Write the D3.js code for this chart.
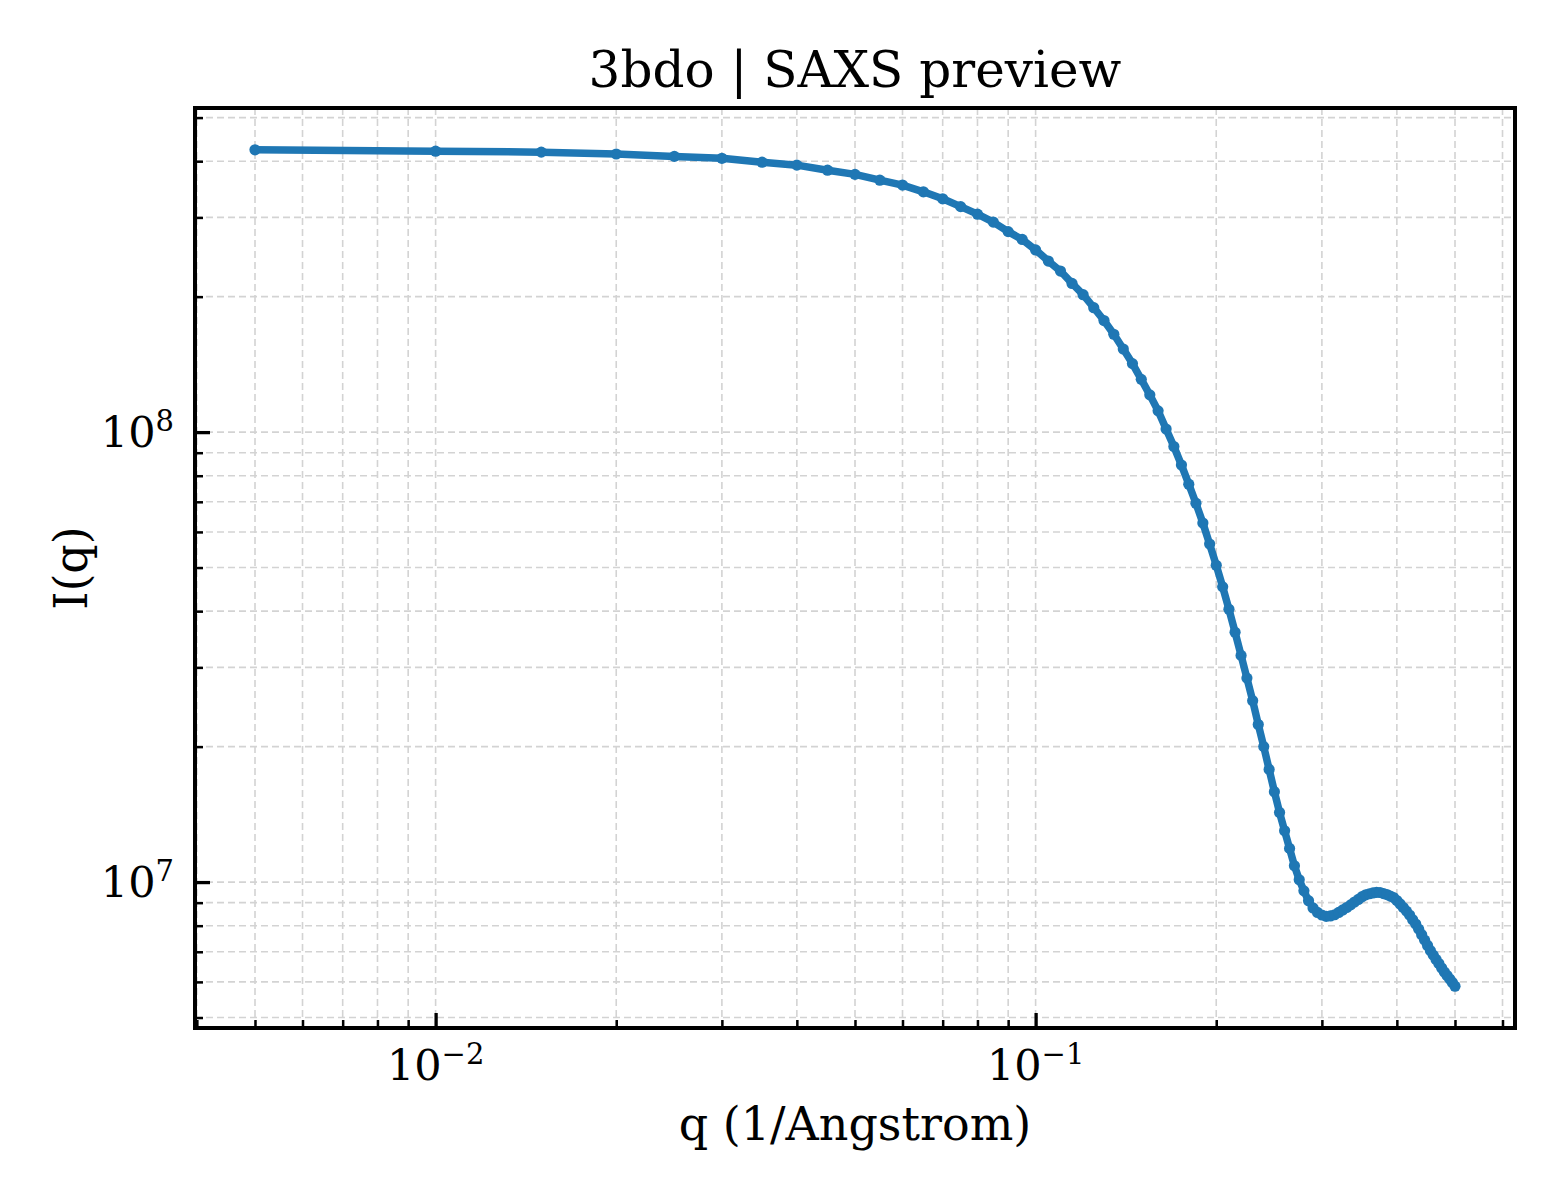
<!DOCTYPE html>
<html>
<head>
<meta charset="utf-8">
<script src="https://cdn.jsdelivr.net/npm/d3@7"></script>
<style>
  body { margin: 0; background: #fff; }
  text { font-family: "DejaVu Serif", serif; fill: #000; }
</style>
</head>
<body>
<svg id="chart" width="1560" height="1200"></svg>
<script>
// chart text
const title = '3bdo | SAXS preview';
const xLabel = 'q (1/Angstrom)';
const yLabel = 'I(q)';

// q in 1/Angstrom
const q = [
  0.005, 0.010, 0.015, 0.020, 0.025, 0.030, 0.035, 0.040, 0.045, 0.050,
  0.055, 0.060, 0.065, 0.070, 0.075, 0.080, 0.085, 0.090, 0.095, 0.100,
  0.105, 0.110, 0.115, 0.120, 0.125, 0.130, 0.135, 0.140, 0.145, 0.150,
  0.155, 0.160, 0.165, 0.170, 0.175, 0.180, 0.185, 0.190, 0.195, 0.200,
  0.205, 0.210, 0.215, 0.220, 0.225, 0.230, 0.235, 0.240, 0.245, 0.250,
  0.255, 0.260, 0.265, 0.270, 0.275, 0.280, 0.285, 0.290, 0.295, 0.300,
  0.305, 0.310, 0.315, 0.320, 0.325, 0.330, 0.335, 0.340, 0.345, 0.350,
  0.355, 0.360, 0.365, 0.370, 0.375, 0.380, 0.385, 0.390, 0.395, 0.400,
  0.405, 0.410, 0.415, 0.420, 0.425, 0.430, 0.435, 0.440, 0.445, 0.450,
  0.455, 0.460, 0.465, 0.470, 0.475, 0.480, 0.485, 0.490, 0.495, 0.500
];

// I(q)
const intensity = [
  4.24e8, 4.21e8, 4.19e8, 4.15e8, 4.10e8, 4.06e8, 3.98e8, 3.92e8, 3.82e8, 3.74e8,
  3.63e8, 3.54e8, 3.42e8, 3.30e8, 3.17e8, 3.05e8, 2.93e8, 2.79e8, 2.68e8, 2.54e8,
  2.40e8, 2.28e8, 2.14e8, 2.02e8, 1.89e8, 1.77e8, 1.65e8, 1.53e8, 1.42e8, 1.31e8,
  1.21e8, 1.115e8, 1.016e8, 9.29e7, 8.45e7, 7.66e7, 6.95e7, 6.28e7, 5.64e7, 5.06e7,
  4.53e7, 4.04e7, 3.59e7, 3.19e7, 2.84e7, 2.53e7, 2.24e7, 2.00e7, 1.78e7, 1.588e7,
  1.428e7, 1.30e7, 1.188e7, 1.087e7, 1.012e7, 9.56e6, 9.09e6, 8.76e6, 8.56e6, 8.45e6,
  8.39e6, 8.41e6, 8.46e6, 8.56e6, 8.67e6, 8.78e6, 8.90e6, 9.03e6, 9.15e6, 9.28e6,
  9.37e6, 9.42e6, 9.46e6, 9.49e6, 9.48e6, 9.43e6, 9.38e6, 9.31e6, 9.24e6, 9.10e6,
  8.94e6, 8.78e6, 8.62e6, 8.45e6, 8.25e6, 8.07e6, 7.86e6, 7.64e6, 7.43e6, 7.23e6,
  7.04e6, 6.88e6, 6.73e6, 6.59e6, 6.44e6, 6.31e6, 6.20e6, 6.09e6, 5.98e6, 5.87e6
];

// major ticks and their labels (base, exponent)
const xMajorTicks = [0.01, 0.1];
const xTickLabels = [['10', '\u22122'], ['10', '\u22121']];
const yMajorTicks = [1e7, 1e8];
const yTickLabels = [['10', '7'], ['10', '8']];

const W = 1560, H = 1200;
const margin = { top: 108, right: 45, bottom: 172, left: 195 };
const iw = W - margin.left - margin.right;
const ih = H - margin.top - margin.bottom;
const blue = '#1f77b4';

// log domain padded 5% each side, like matplotlib
function padLog(ext) {
  const a = Math.log10(ext[0]), b = Math.log10(ext[1]);
  const p = (b - a) * 0.05;
  return [Math.pow(10, a - p), Math.pow(10, b + p)];
}

const x = d3.scaleLog().domain(padLog(d3.extent(q))).range([0, iw]);
const y = d3.scaleLog().domain(padLog(d3.extent(intensity))).range([ih, 0]);

const svg = d3.select('#chart');
const g = svg.append('g').attr('transform', `translate(${margin.left},${margin.top})`);

const isMajor = (v, majors) => majors.some(m => Math.abs(v / m - 1) < 1e-9);
const xMinor = x.ticks().filter(v => !isMajor(v, xMajorTicks));
const yMinor = y.ticks().filter(v => !isMajor(v, yMajorTicks));

// grid, major + minor
const grid = g.append('g').attr('stroke', '#d3d3d3').attr('stroke-width', 1.6)
  .attr('stroke-dasharray', '7,4').attr('fill', 'none');
grid.selectAll('line.gx').data(xMajorTicks.concat(xMinor)).enter().append('line')
  .attr('class', 'gx')
  .attr('x1', d => x(d)).attr('x2', d => x(d))
  .attr('y1', 0).attr('y2', ih);
grid.selectAll('line.gy').data(yMajorTicks.concat(yMinor)).enter().append('line')
  .attr('class', 'gy')
  .attr('y1', d => y(d)).attr('y2', d => y(d))
  .attr('x1', 0).attr('x2', iw);

// curve
const line = d3.line().x((d, i) => x(q[i])).y(d => y(d));
g.append('path').datum(intensity)
  .attr('fill', 'none').attr('stroke', blue).attr('stroke-width', 7.5)
  .attr('stroke-linejoin', 'round').attr('stroke-linecap', 'round')
  .attr('d', line);

g.selectAll('circle').data(intensity).enter().append('circle')
  .attr('cx', (d, i) => x(q[i])).attr('cy', d => y(d))
  .attr('r', 5.6).attr('fill', blue);

// ticks pointing inward
function tickAxis(axis, sel, size, width) {
  sel.call(axis.tickSize(-size).tickFormat(''));
  sel.select('.domain').remove();
  sel.selectAll('.tick line').attr('stroke', '#000').attr('stroke-width', width);
}
tickAxis(d3.axisBottom(x).tickValues(xMajorTicks),
  g.append('g').attr('transform', `translate(0,${ih})`), 15, 3.3);
tickAxis(d3.axisBottom(x).tickValues(xMinor),
  g.append('g').attr('transform', `translate(0,${ih})`), 8, 2.5);
tickAxis(d3.axisLeft(y).tickValues(yMajorTicks), g.append('g'), 15, 3.3);
tickAxis(d3.axisLeft(y).tickValues(yMinor), g.append('g'), 8, 2.5);

// frame
g.append('rect').attr('width', iw).attr('height', ih)
  .attr('fill', 'none').attr('stroke', '#000').attr('stroke-width', 4);

// tick labels with superscripts
function powLabel(sel, lab) {
  sel.append('tspan').attr('font-size', 43).text(lab[0]);
  sel.append('tspan').attr('font-size', 29).attr('dy', -16).text(lab[1]);
}
xMajorTicks.forEach((v, i) => {
  const t = g.append('text').attr('x', x(v)).attr('y', ih + 52)
    .attr('text-anchor', 'middle');
  powLabel(t, xTickLabels[i]);
});
yMajorTicks.forEach((v, i) => {
  const t = g.append('text').attr('x', -21).attr('y', y(v) + 15)
    .attr('text-anchor', 'end');
  powLabel(t, yTickLabels[i]);
});

// titles
svg.append('text').attr('x', margin.left + iw / 2).attr('y', 87)
  .attr('text-anchor', 'middle').attr('font-size', 50).text(title);
svg.append('text').attr('x', margin.left + iw / 2).attr('y', 1140)
  .attr('text-anchor', 'middle').attr('font-size', 46).text(xLabel);
svg.append('text')
  .attr('transform', `translate(87,${margin.top + ih / 2}) rotate(-90)`)
  .attr('text-anchor', 'middle').attr('font-size', 46).text(yLabel);
</script>
</body>
</html>
